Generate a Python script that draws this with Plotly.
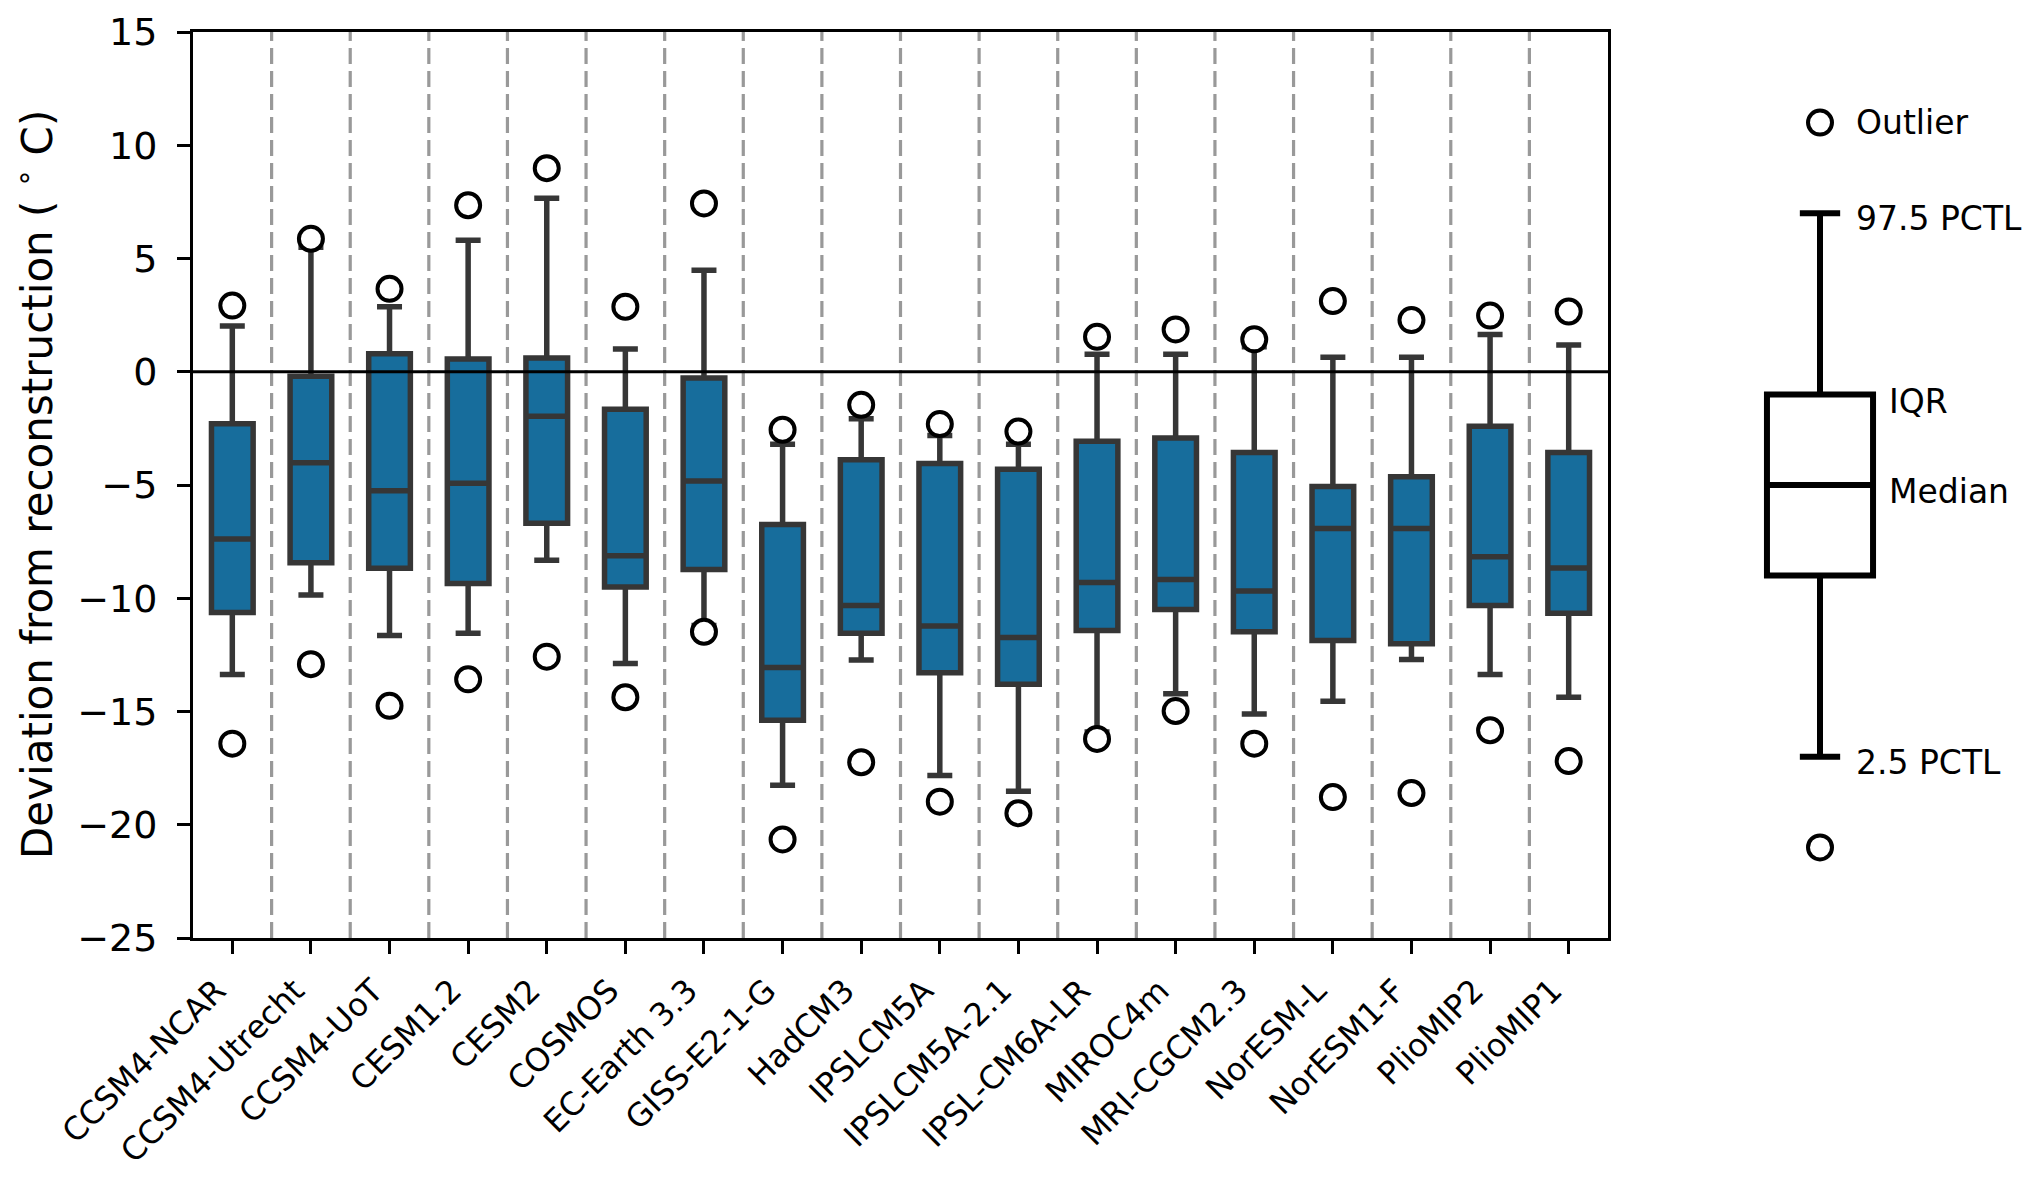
import plotly.graph_objects as go

models = ["CCSM4-NCAR", "CCSM4-Utrecht", "CCSM4-UoT", "CESM1.2", "CESM2", "COSMOS",
          "EC-Earth 3.3", "GISS-E2-1-G", "HadCM3", "IPSLCM5A", "IPSLCM5A-2.1",
          "IPSL-CM6A-LR", "MIROC4m", "MRI-CGCM2.3", "NorESM-L", "NorESM1-F",
          "PlioMIP2", "PlioMIP1"]
p975 = [2.02, 5.5, 2.87, 5.81, 7.66, 1.0, 4.48, -3.2, -2.07, -2.82, -3.2, 0.77, 0.77, 1.1, 0.64, 0.64, 1.64, 1.18]
q3 = [-2.3, -0.2, 0.79, 0.56, 0.61, -1.66, -0.28, -6.74, -3.89, -4.05, -4.3, -3.07, -2.92, -3.56, -5.07, -4.64, -2.41, -3.56]
median = [-7.38, -4.02, -5.25, -4.92, -1.97, -8.12, -4.82, -13.06, -10.32, -11.22, -11.73, -9.3, -9.17, -9.68, -6.92, -6.92, -8.17, -8.66]
q1 = [-10.63, -8.43, -8.68, -9.35, -6.69, -9.5, -8.73, -15.39, -11.55, -13.29, -13.8, -11.42, -10.5, -11.48, -11.86, -12.01, -10.32, -10.66]
p025 = [-13.37, -9.86, -11.65, -11.55, -8.32, -12.88, -11.2, -18.26, -12.73, -17.83, -18.52, -15.9, -14.22, -15.11, -14.55, -12.7, -13.37, -14.37]
out_hi = [2.92, 5.87, 3.66, 7.35, 8.99, 2.87, 7.43, -2.56, -1.46, -2.31, -2.64, 1.54, 1.87, 1.43, 3.12, 2.28, 2.48, 2.66]
out_lo = [-16.42, -12.91, -14.75, -13.58, -12.58, -14.37, -11.48, -20.65, -17.24, -18.98, -19.49, -16.21, -14.98, -16.42, -18.78, -18.6, -15.83, -17.19]

yticks = [-25, -20, -15, -10, -5, 0, 5, 10, 15]
ylabel = "Deviation from reconstruction ( <sup>∘</sup> C)"

# schematic key
key_stats = {"q1": -9, "median": -5, "q3": -1, "lo": -17, "hi": 7}
key_outliers = [11, -21]
key_labels = ["Outlier", "97.5 PCTL", "IQR", "Median", "2.5 PCTL"]
key_label_y = [11, 6.75, -1.3, -5.3, -17.25]

FONT = "DejaVu Sans"
EDGE = "#363636"
FILL = "#176d9c"

xpos = list(range(1, len(models) + 1))

fig = go.Figure()

fig.add_trace(go.Box(
    x=xpos, q1=q1, median=median, q3=q3, lowerfence=p025, upperfence=p975,
    boxpoints=False, width=0.53, whiskerwidth=0.6,
    fillcolor=FILL, line=dict(color=EDGE, width=5.5),
    showlegend=False, hoverinfo="skip", xaxis="x", yaxis="y",
))
fig.add_trace(go.Scatter(
    x=xpos + xpos, y=out_hi + out_lo, mode="markers",
    marker=dict(symbol="circle", size=24, color="white", line=dict(color="black", width=4)),
    showlegend=False, hoverinfo="skip", xaxis="x", yaxis="y",
))

# key
fig.add_trace(go.Box(
    x=[0.5], q1=[key_stats["q1"]], median=[key_stats["median"]], q3=[key_stats["q3"]],
    lowerfence=[key_stats["lo"]], upperfence=[key_stats["hi"]],
    boxpoints=False, width=0.442, whiskerwidth=0.38,
    fillcolor="white", line=dict(color="black", width=6),
    showlegend=False, hoverinfo="skip", xaxis="x2", yaxis="y2",
))
fig.add_trace(go.Scatter(
    x=[0.5, 0.5], y=key_outliers, mode="markers",
    marker=dict(symbol="circle", size=24, color="white", line=dict(color="black", width=4)),
    showlegend=False, hoverinfo="skip", xaxis="x2", yaxis="y2",
))

shapes = []
for i in range(1, len(models)):
    shapes.append(dict(type="line", xref="x", yref="y domain", x0=i + 0.5, x1=i + 0.5, y0=0, y1=1,
                       line=dict(color="#999999", width=3.2, dash="16px,7px"), layer="below"))
shapes.append(dict(type="line", xref="x", yref="y", x0=0.5, x1=len(models) + 0.5, y0=0, y1=0,
                   line=dict(color="black", width=3), layer="above"))

# page body has an 8px margin, so positions below are offset by 8
W, H = 2032, 1172
OFF = 8
L, R, T, B = 193 - OFF, 0, 31.5 - OFF, H - (938 - OFF)
pw = W - L - R
main_right = (1608 - OFF - L) / pw

annotations = []
key_label_x = [0.64, 0.64, 0.78, 0.78, 0.64]
for t, xx, yy in zip(key_labels, key_label_x, key_label_y):
    annotations.append(dict(text=t, x=xx, y=yy, xref="x2", yref="y2", xanchor="left", yanchor="middle",
                            showarrow=False, font=dict(family=FONT, size=33, color="black")))
# y-axis title placed as rotated text
annotations.append(dict(text=ylabel, x=(34 - OFF - L) / pw, y=0.5, xref="paper", yref="y domain",
                        xanchor="center", yanchor="middle", textangle=-90, showarrow=False,
                        font=dict(family=FONT, size=42, color="black")))

fig.update_layout(
    width=W, height=H,
    margin=dict(l=L, r=R, t=T, b=B, pad=0),
    paper_bgcolor="white", plot_bgcolor="white",
    font=dict(family=FONT, color="black"),
    shapes=shapes, annotations=annotations,
    xaxis=dict(domain=[0, main_right], range=[0.5, len(models) + 0.5],
               tickvals=xpos, ticktext=models, tickangle=-45,
               tickfont=dict(family=FONT, size=32, color="black"),
               ticklabelshift=-16, ticklabelstandoff=5,
               showgrid=False, zeroline=False, showline=True, linecolor="black", linewidth=3,
               mirror=True, ticks="outside", ticklen=13, tickwidth=3, tickcolor="black"),
    yaxis=dict(range=[-25, 15], tickvals=yticks,
               tickfont=dict(family=FONT, size=38, color="black"),
               ticklabelstandoff=12,
               showgrid=False, zeroline=False, showline=True, linecolor="black", linewidth=3,
               mirror=True, ticks="outside", ticklen=13, tickwidth=3, tickcolor="black",
               automargin=False),
    xaxis2=dict(domain=[(1700 - OFF - L) / pw, (1940 - OFF - L) / pw], range=[0, 1], visible=False,
                anchor="y2"),
    yaxis2=dict(domain=[0, 1], range=[-25, 15], visible=False, anchor="x2"),
)

fig.write_html("out.html")
